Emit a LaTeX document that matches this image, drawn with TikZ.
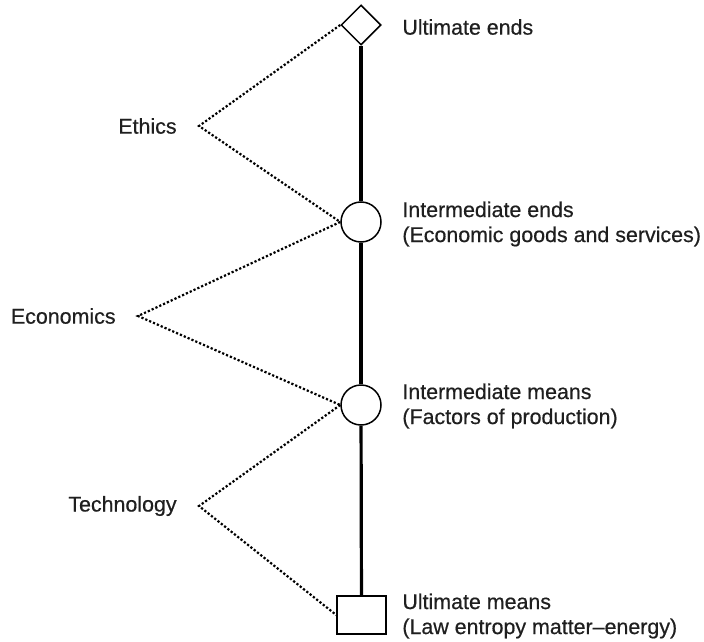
\documentclass[tikz,border=0pt]{standalone}
\usepackage{fontspec}
\setmainfont{Liberation Sans}
\newfontfamily\labelfont{Liberation Sans}[FakeBold=0.5, Ligatures=TeX]
\usetikzlibrary{shapes.geometric}

\begin{document}
\begin{tikzpicture}[x=0.5pt, y=-0.5pt,
    txt/.style={inner sep=0pt, text=black!88, font=\labelfont\fontsize{10.7}{12.5}\selectfont, align=left},
    stage/.style={draw, line width=0.75pt, inner sep=0pt, fill=white},
    axis/.style={line width=1.6pt},
    link/.style={line width=1.1pt, dash pattern=on 1.1pt off 1pt}]
    \useasboundingbox (0,0) rectangle (704,641);

    % stages on the axis
    \node[stage, diamond, minimum size=20pt] (uends) at (361,25) {};
    \node[stage, circle, minimum size=20pt] (iends) at (361,222) {};
    \node[stage, circle, minimum size=20pt] (imeans) at (361,405) {};
    \node[stage, rectangle, minimum width=24.5pt, minimum height=19pt] (umeans) at (361.5,615) {};

    % the axis
    \draw[axis] (uends) -- (iends);
    \draw[axis] (iends) -- (imeans);
    \draw[axis] (imeans) -- (umeans);

    % labels of the stages
    \node[txt, anchor=west] (luends) at (402,27) {Ultimate ends};
    \node[txt, anchor=west] (liends) at (402,224) {Intermediate ends\\(Economic goods and services)};
    \node[txt, anchor=west] (limeans) at (402,406) {Intermediate means\\(Factors of production)};
    \node[txt, anchor=west] (lumeans) at (402,616) {Ultimate means\\(Law entropy matter--energy)};

    % disciplines (east anchor is the vertex of the dotted lines)
    \node[txt, inner xsep=11pt, anchor=east] (ethics) at (199,126) {Ethics};
    \node[txt, inner xsep=11pt, anchor=east] (econ) at (138,316) {Economics};
    \node[txt, inner xsep=11pt, anchor=east] (tech) at (199,506) {Technology};

    % dotted links
    \draw[link] (uends.west) -- (ethics.east) -- (iends.west);
    \draw[link] (iends.west) -- (econ.east) -- (imeans.west);
    \draw[link] (imeans.west) -- (tech.east) -- (umeans.west);
\end{tikzpicture}
\end{document}
